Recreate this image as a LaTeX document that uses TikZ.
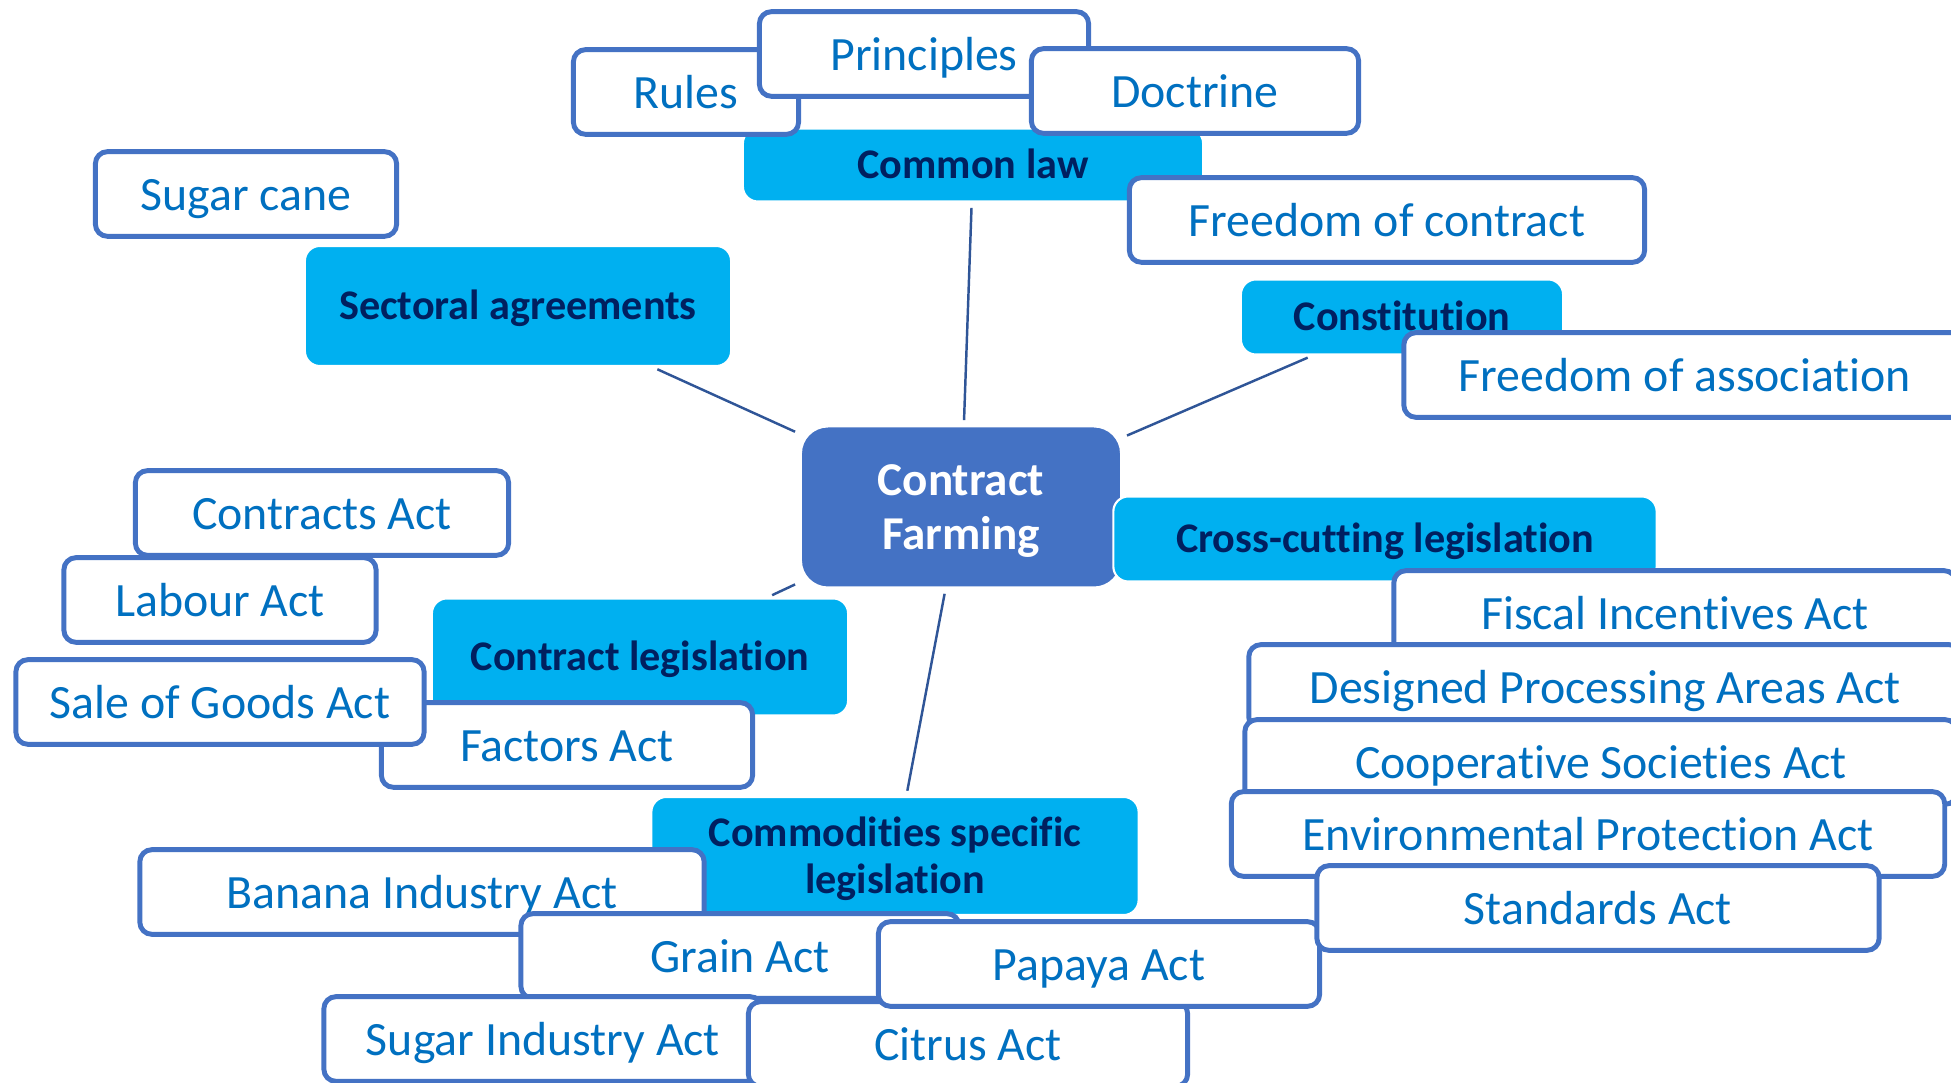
\documentclass[tikz,border=0pt]{standalone}
\usepackage{fontspec}
\setmainfont{Carlito}[Ligatures=NoCommon]
\usepackage{xcolor}
\definecolor{hubblue}{HTML}{4472C4}
\definecolor{branchcyan}{HTML}{00B0F0}
\definecolor{branchtext}{HTML}{002060}
\definecolor{leaftext}{HTML}{0070C0}
\definecolor{linkblue}{HTML}{2F5597}

\begin{document}
\begin{tikzpicture}[x=0.01cm,y=-0.01cm]

		\useasboundingbox (0,0) rectangle (1951,1083);
		\clip (0,0) rectangle (1951,1083);
		\tikzset{leaf/.style={draw=hubblue, line width=1.4pt, fill=white, rounded corners=0.12cm,
				text=leaftext, font=\fontsize{13.6}{16}\selectfont, minimum height=0.846cm,
				inner sep=0pt, text height=11.35pt, text depth=1.85pt}}
		\tikzset{branchbox/.style={draw=white, line width=0.6pt, fill=branchcyan, rounded corners=0.15cm,
				text=branchtext, font=\bfseries\fontsize{12}{13.1}\selectfont, align=center, inner sep=0pt}}
		\tikzset{branch/.style={branchbox, text height=10pt, text depth=2.3pt}}
		\tikzset{hub/.style={draw=white, line width=0.6pt, fill=hubblue, rounded corners=0.27cm,
				text=white, font=\bfseries\fontsize{13.4}{15.2}\selectfont, align=center, inner sep=0pt}}
		\tikzset{link/.style={draw=linkblue, line width=0.7pt, shorten <=1.5pt, shorten >=1.5pt}}

		% common law
		\node[branch, minimum width=4.60cm, minimum height=0.73cm] (claw) at (973,165) {Common law};
		\node[leaf, minimum width=2.25cm] (rules) at (686,92) {Rules};
		\node[leaf, minimum width=3.29cm] (princ) at (924,54) {Principles};
		\node[leaf, minimum width=3.27cm] (doct) at (1195,91) {Doctrine};
		\node[leaf, minimum width=5.15cm] (contrfree) at (1387,220) {Freedom of contract};

		% sectoral agreements
		\node[leaf, minimum width=3.01cm] (scane) at (246,194) {Sugar cane};
		\node[branch, minimum width=4.26cm, minimum height=1.20cm] (sect) at (518,306) {Sectoral agreements};

		% constitution
		\node[branch, minimum width=3.22cm, minimum height=0.75cm] (const) at (1402,317) {Constitution};
		\node[leaf, minimum width=5.62cm] (assocfree) at (1685,375) {Freedom of association};

		% centre
		\node[hub, minimum width=3.20cm, minimum height=1.61cm] (hub) at (961,507) {\rule{0pt}{11pt}Contract\\Farming};
		\node[branch, minimum width=5.43cm, minimum height=0.85cm] (cross) at (1385,539) {Cross-cutting legislation};

		% contract legislation
		\node[leaf, minimum width=3.73cm] (contracts) at (322,513) {Contracts Act};
		\node[leaf, minimum width=3.12cm] (labour) at (220,600) {Labour Act};
		\node[branch, minimum width=4.16cm, minimum height=1.17cm] (conleg) at (640,657) {Contract legislation};
		\node[leaf, minimum width=3.71cm] (factors) at (567,745) {Factors Act};
		\node[leaf, minimum width=4.08cm] (goods) at (220,702) {Sale of Goods Act};

		% commodities
		\node[branchbox, minimum width=4.87cm, minimum height=1.18cm] (commod) at (895,856) {\rule{0pt}{10pt}Commodities specific\\legislation};
		\node[leaf, minimum width=5.64cm] (banana) at (422,892) {Banana Industry Act};
		\node[leaf, minimum width=4.38cm] (grain) at (740,956) {Grain Act};
		\node[leaf, minimum width=4.38cm] (sugarind) at (543,1039) {Sugar Industry Act};
		\node[leaf, minimum width=4.39cm] (citrus) at (968,1044) {Citrus Act};
		\node[leaf, minimum width=4.41cm] (papaya) at (1099,964) {Papaya Act};

		% cross-cutting
		\node[leaf, minimum width=5.62cm] (fiscal) at (1675,613) {Fiscal Incentives Act};
		\node[leaf, minimum width=7.12cm] (dpa) at (1605,687) {Designed Processing Areas Act};
		\node[leaf, minimum width=7.12cm] (coop) at (1601,762) {Cooperative Societies Act};
		\node[leaf, minimum width=7.13cm] (envir) at (1588,834) {Environmental Protection Act};
		\node[leaf, minimum width=5.62cm] (stand) at (1598,908) {Standards Act};

		\draw[link] (claw) -- (hub);
		\draw[link] (sect) -- (hub);
		\draw[link] (const) -- (hub);
		\draw[link] (conleg) -- (hub);
		\draw[link] (commod) -- (hub);

\end{tikzpicture}
\end{document}
